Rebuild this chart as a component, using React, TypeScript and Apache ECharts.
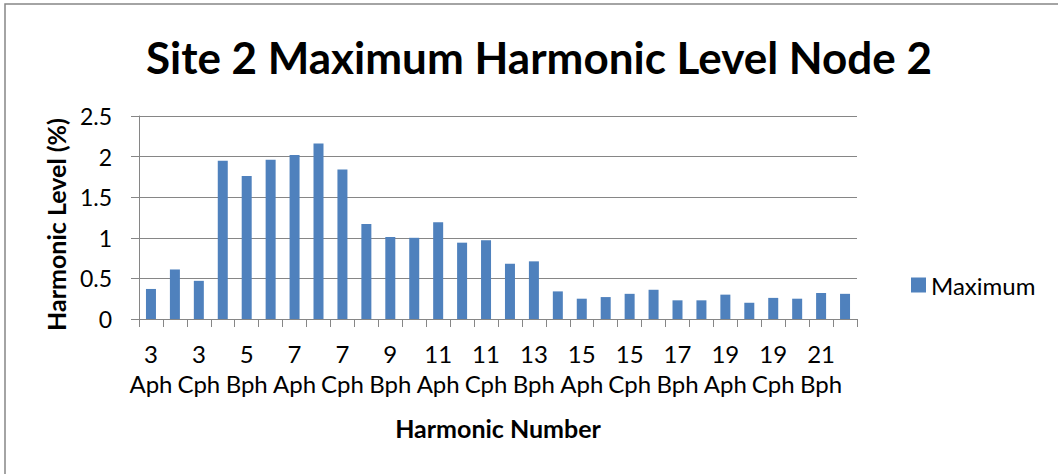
import React, { useEffect, useRef } from "react";
import * as echarts from "echarts";

const categories = [
  "3\nAph", "3\nBph", "3\nCph", "5\nAph", "5\nBph", "5\nCph",
  "7\nAph", "7\nBph", "7\nCph", "9\nAph", "9\nBph", "9\nCph",
  "11\nAph", "11\nBph", "11\nCph", "13\nAph", "13\nBph", "13\nCph",
  "15\nAph", "15\nBph", "15\nCph", "17\nAph", "17\nBph", "17\nCph",
  "19\nAph", "19\nBph", "19\nCph", "21\nAph", "21\nBph", "21\nCph",
];

const maximum = [
  0.37, 0.61, 0.47, 1.95, 1.76, 1.96,
  2.02, 2.16, 1.84, 1.17, 1.01, 1.0,
  1.19, 0.94, 0.97, 0.68, 0.71, 0.34,
  0.25, 0.27, 0.31, 0.36, 0.23, 0.23,
  0.3, 0.2, 0.26, 0.25, 0.32, 0.31,
];

const FONT = "Lato";

export default function App() {
  const ref = useRef<HTMLDivElement>(null);
  useEffect(() => {
    if (!ref.current) return;
    const chart = echarts.init(ref.current, null, { renderer: "svg" });
    chart.setOption({
      animation: false,
      backgroundColor: "#ffffff",
      textStyle: { fontFamily: FONT },
      title: {
        text: "Site 2 Maximum Harmonic Level Node 2",
        left: 534,
        top: 30,
        textAlign: "center",
        textStyle: { fontFamily: FONT, fontWeight: "bold", fontSize: 44, color: "#000" },
      },
      legend: {
        left: 906,
        top: 268,
        itemWidth: 15,
        itemHeight: 15,
        itemGap: 8,
        icon: "rect",
        textStyle: { fontFamily: FONT, fontSize: 24, color: "#000" },
        data: ["Maximum"],
      },
      grid: { left: 139, right: 201, top: 116, bottom: 155, containLabel: false },
      xAxis: {
        type: "category",
        data: categories,
        boundaryGap: true,
        name: "Harmonic Number",
        nameLocation: "middle",
        nameGap: 96,
        nameTextStyle: { fontFamily: FONT, fontWeight: "bold", fontSize: 25, color: "#000" },
        axisLine: { show: true, lineStyle: { color: "#868686", width: 1 } },
        axisTick: { show: true, interval: 0, length: 8, lineStyle: { color: "#868686" } },
        axisLabel: {
          interval: 1,
          margin: 19,
          fontFamily: FONT,
          fontSize: 24,
          color: "#000",
          lineHeight: 30,
        },
        splitLine: { show: false },
      },
      yAxis: {
        type: "value",
        min: 0,
        max: 2.5,
        interval: 0.5,
        name: "Harmonic Level (%)",
        nameLocation: "middle",
        nameGap: 69,
        nameTextStyle: {
          fontFamily: FONT,
          fontWeight: "bold",
          fontSize: 25,
          color: "#000",
          padding: [0, 14, 0, 0],
        },
        axisLine: { show: true, lineStyle: { color: "#868686", width: 1 } },
        axisTick: { show: true, length: 8, lineStyle: { color: "#868686" } },
        axisLabel: { margin: 27, fontFamily: FONT, fontSize: 23, color: "#000" },
        splitLine: { show: true, lineStyle: { color: "#868686", width: 1 } },
      },
      series: [
        {
          name: "Maximum",
          type: "bar",
          data: maximum,
          barWidth: 10,
          itemStyle: { color: "#4F81BD" },
        },
      ],
      graphic: [
        {
          type: "rect",
          shape: { x: 5, y: 4, width: 1200, height: 600 },
          style: { fill: "none", stroke: "#868686", lineWidth: 1.5 },
          silent: true,
        },
      ],
    });
    return () => chart.dispose();
  }, []);
  return (
    <div
      ref={ref}
      style={{ position: "absolute", left: 0, top: 0, width: 1058, height: 474 }}
    />
  );
}
